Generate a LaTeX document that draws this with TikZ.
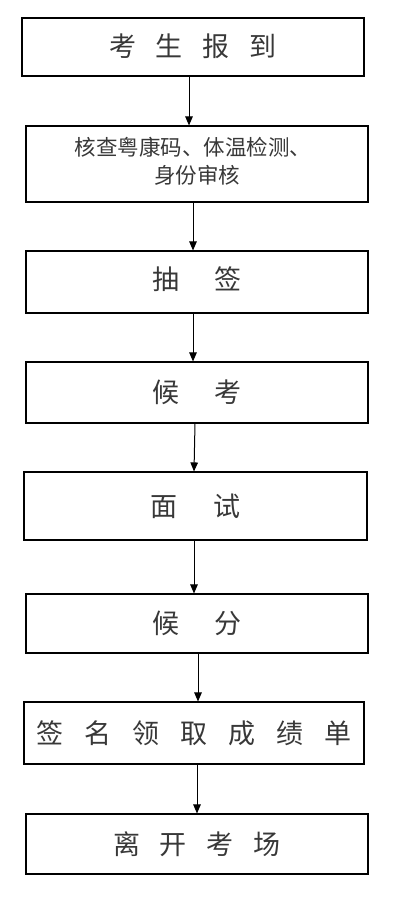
\documentclass[tikz,border=0pt]{standalone}
\usepackage{fontspec}
\setmainfont{Noto Sans CJK SC}
\usetikzlibrary{arrows.meta}
\tikzset{
  box/.style={draw=black, line width=1.1pt, rectangle, inner sep=0pt, text=black!78,
    font=\fontsize{27}{30}\selectfont},
  smallbox/.style={box, font=\fontsize{21.5}{28}\selectfont, align=center},
  flow/.style={draw=black, line width=1pt, -{Triangle[length=9pt,width=7.5pt]}}
}
\begin{document}
\begin{tikzpicture}[x=1pt,y=-1pt]
\useasboundingbox (0,0) rectangle (400,901);
\node[box, minimum width=342pt, minimum height=58pt] (b1) at (193,47)
  {\raisebox{4pt}{考\hspace{20pt}生\hspace{20pt}报\hspace{20pt}到}};
\node[smallbox, minimum width=342pt, minimum height=76pt] (b2) at (197,164)
  {\raisebox{-3pt}{\begin{tabular}{@{}c@{}}\hspace*{-8pt}核查粤康码、体温检测、\\身份审核\end{tabular}}};
\node[box, minimum width=342pt, minimum height=62pt] (b3) at (197,282)
  {\raisebox{8pt}{抽\hspace{36pt}签}};
\node[box, minimum width=342pt, minimum height=61pt] (b4) at (197,392.5)
  {候\hspace{36pt}考};
\node[box, minimum width=343pt, minimum height=68pt] (b5) at (195.5,506)
  {\raisebox{1pt}{面\hspace{37pt}试}};
\node[box, minimum width=342pt, minimum height=59pt] (b6) at (197,623.5)
  {候\hspace{36pt}分};
\node[box, minimum width=340pt, minimum height=62pt] (b7) at (194,733)
  {签\hspace{21pt}名\hspace{21pt}领\hspace{21pt}取\hspace{21pt}成\hspace{21pt}绩\hspace{21pt}单};
\node[box, minimum width=342pt, minimum height=60pt] (b8) at (197,844)
  {离\hspace{20pt}开\hspace{20pt}考\hspace{20pt}场};
\draw[flow] ([xshift=-4pt]b1.south) -- ([xshift=-8pt]b2.north);
\draw[flow] ([xshift=-4pt]b2.south) -- ([xshift=-4pt]b3.north);
\draw[flow] ([xshift=-4pt]b3.south) -- ([xshift=-4pt]b4.north);
\draw[flow] ([xshift=-2pt]b4.south) -- ([xshift=-1.5pt]b5.north);
\draw[flow] ([xshift=-1.5pt]b5.south) -- ([xshift=-3pt]b6.north);
\draw[flow] ([xshift=1pt]b6.south) -- ([xshift=4pt]b7.north);
\draw[flow] ([xshift=3pt]b7.south) -- ([xshift=0pt]b8.north);
\end{tikzpicture}
\end{document}
